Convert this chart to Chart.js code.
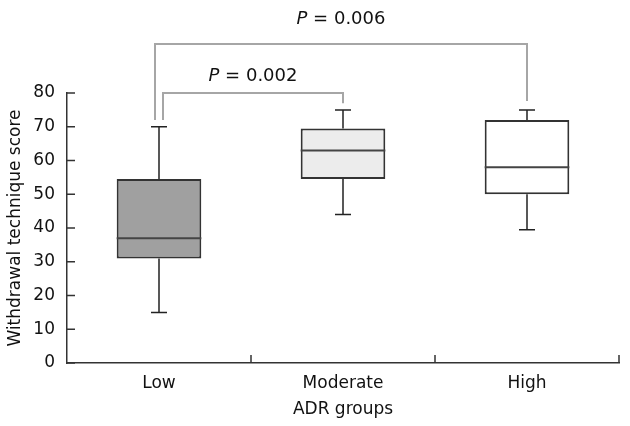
<!DOCTYPE html>
<html>
<head>
<meta charset="utf-8">
<script src="https://cdn.jsdelivr.net/npm/chart.js@4/dist/chart.umd.min.js"></script>
<style>
    html, body { margin: 0; padding: 0; background: #fff; }
    #wrap { width: 630px; height: 426px; }
</style>
</head>
<body>
<div id="wrap"><canvas id="boxChart"></canvas></div>
<script>
// ADR groups and the box plot summary for each one
const categories = ["Low", "Moderate", "High"];
const minValues = [15, 44, 39.5];
const q1Values = [31, 54.5, 50];
const medianValues = [37, 63, 58];
const q3Values = [54.5, 69.5, 72];
const maxValues = [70, 75, 75];
const yTicks = [0, 10, 20, 30, 40, 50, 60, 70, 80];

// pairwise comparisons shown above the plot
const comparePairs = [[0, 1], [0, 2]];
const pValues = ["0.002", "0.006"];

const boxColors = ["#a0a0a0", "#ececec", "#ffffff"];
const fontFamily = "'DejaVu Sans', Verdana, sans-serif";

const boxPlugin = {
    id: "boxExtras",
    afterDatasetsDraw(chart) {
        const ctx = chart.ctx;
        const x = chart.scales.x;
        const y = chart.scales.y;
        const bars = chart.getDatasetMeta(0).data;
        const area = chart.chartArea;

        ctx.save();

        // whiskers and medians
        bars.forEach((bar, i) => {
            const cx = bar.x;
            const half = bar.width / 2;
            ctx.strokeStyle = "#222";
            ctx.lineWidth = 1.5;
            ctx.beginPath();
            ctx.moveTo(cx, y.getPixelForValue(q3Values[i]));
            ctx.lineTo(cx, y.getPixelForValue(maxValues[i]));
            ctx.moveTo(cx - 8, y.getPixelForValue(maxValues[i]));
            ctx.lineTo(cx + 8, y.getPixelForValue(maxValues[i]));
            ctx.moveTo(cx, y.getPixelForValue(q1Values[i]));
            ctx.lineTo(cx, y.getPixelForValue(minValues[i]));
            ctx.moveTo(cx - 8, y.getPixelForValue(minValues[i]));
            ctx.lineTo(cx + 8, y.getPixelForValue(minValues[i]));
            ctx.stroke();

            ctx.strokeStyle = "#444";
            ctx.lineWidth = 2;
            ctx.beginPath();
            ctx.moveTo(cx - half, y.getPixelForValue(medianValues[i]));
            ctx.lineTo(cx + half, y.getPixelForValue(medianValues[i]));
            ctx.stroke();
        });

        // inward tick marks
        ctx.strokeStyle = "#333";
        ctx.lineWidth = 1.5;
        ctx.beginPath();
        yTicks.forEach(v => {
            const py = y.getPixelForValue(v);
            ctx.moveTo(area.left, py);
            ctx.lineTo(area.left + 8, py);
        });
        const step = (area.right - area.left) / categories.length;
        for (let k = 1; k <= categories.length; k++) {
            const px = area.left + k * step;
            ctx.moveTo(px, area.bottom);
            ctx.lineTo(px, area.bottom - 8);
        }
        ctx.stroke();

        // significance brackets
        const levels = [80, 94.5];
        const leftShift = [4, -4];
        const rightDrop = [77, 77.6];
        const textGap = [12, 20];
        comparePairs.forEach((pair, k) => {
            const x1 = x.getPixelForValue(pair[0]) + leftShift[k];
            const x2 = x.getPixelForValue(pair[1]);
            const top = y.getPixelForValue(levels[k]);
            ctx.strokeStyle = "#a6a6a6";
            ctx.lineWidth = 2;
            ctx.beginPath();
            ctx.moveTo(x1, y.getPixelForValue(72));
            ctx.lineTo(x1, top);
            ctx.lineTo(x2, top);
            ctx.lineTo(x2, y.getPixelForValue(rightDrop[k]));
            ctx.stroke();

            const italic = "italic 18px " + fontFamily;
            const normal = "18px " + fontFamily;
            const rest = " = " + pValues[k];
            ctx.font = italic;
            const wP = ctx.measureText("P").width;
            ctx.font = normal;
            const wRest = ctx.measureText(rest).width;
            const start = (x1 + x2) / 2 - (wP + wRest) / 2;
            const ty = top - textGap[k];
            ctx.fillStyle = "#111";
            ctx.textBaseline = "alphabetic";
            ctx.textAlign = "left";
            ctx.font = italic;
            ctx.fillText("P", start, ty);
            ctx.font = normal;
            ctx.fillText(rest, start + wP, ty);
        });

        ctx.restore();
    }
};

const ctx = document.getElementById("boxChart").getContext("2d");

new Chart(ctx, {
    type: "bar",
    data: {
        labels: categories,
        datasets: [{
            label: "Withdrawal technique score",
            data: categories.map((c, i) => [q1Values[i], q3Values[i]]),
            backgroundColor: boxColors,
            borderColor: "#333",
            borderWidth: 2,
            borderSkipped: false,
            barPercentage: 0.46,
            categoryPercentage: 1
        }]
    },
    options: {
        responsive: true,
        maintainAspectRatio: false,
        animation: false,
        layout: {
            padding: { top: 93, right: 11, left: 0, bottom: 0 }
        },
        plugins: {
            legend: { display: false },
            tooltip: { enabled: false }
        },
        scales: {
            x: {
                grid: { display: false, drawTicks: false },
                border: { display: true, color: "#333", width: 1.5 },
                ticks: {
                    color: "#111",
                    padding: 10,
                    font: { family: fontFamily, size: 17 }
                },
                title: {
                    display: true,
                    text: "ADR groups",
                    color: "#111",
                    padding: { top: 0, bottom: 6 },
                    font: { family: fontFamily, size: 17 }
                },
                afterFit(scale) { scale.height = 63; }
            },
            y: {
                min: 0,
                max: 80,
                afterBuildTicks(scale) {
                    scale.ticks = yTicks.map(v => ({ value: v }));
                },
                grid: { display: false, drawTicks: false },
                border: { display: true, color: "#333", width: 1.5 },
                ticks: {
                    color: "#111",
                    padding: 12,
                    font: { family: fontFamily, size: 17 }
                },
                title: {
                    display: true,
                    text: "Withdrawal technique score",
                    color: "#111",
                    padding: { top: 5, bottom: 0 },
                    font: { family: fontFamily, size: 17 }
                },
                afterFit(scale) { scale.width = 67; }
            }
        }
    },
    plugins: [boxPlugin]
});
</script>
</body>
</html>
